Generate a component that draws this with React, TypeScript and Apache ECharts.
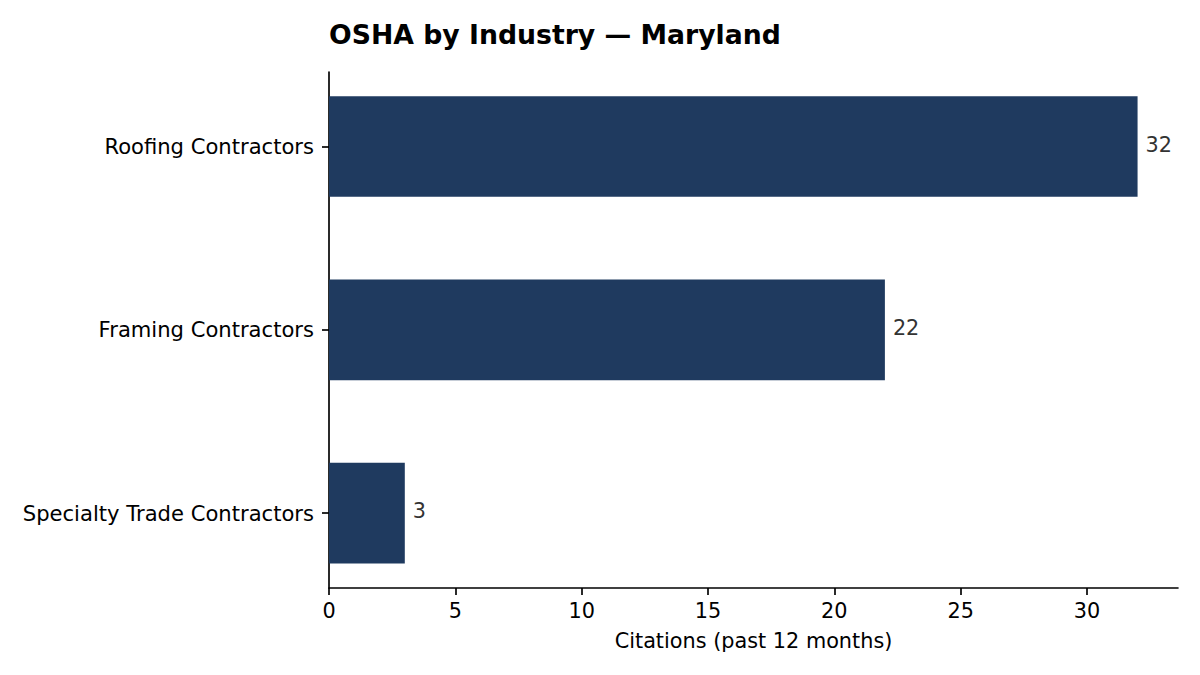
import React, { useEffect, useRef } from "react";
import * as echarts from "echarts";

const categories = ["Roofing Contractors", "Framing Contractors", "Specialty Trade Contractors"];
const citations = [32, 22, 3];
const xTickValues = [0, 5, 10, 15, 20, 25, 30];
const xMax = 33.6;
const titleText = "OSHA by Industry — Maryland";
const xAxisName = "Citations (past 12 months)";

const FONT = "DejaVu Sans";

export default function App() {
  const ref = useRef<HTMLDivElement>(null);
  useEffect(() => {
    document.body.style.margin = "0";
    if (!ref.current) return;
    const chart = echarts.init(ref.current, undefined, { renderer: "svg" });
    const left = 329;
    const right = 22;
    chart.setOption({
      animation: false,
      backgroundColor: "#ffffff",
      title: {
        text: titleText,
        left: left - 5,
        top: 16,
        textStyle: { fontFamily: FONT, fontSize: 26.7, fontWeight: "bold", color: "#000" },
      },
      grid: [
        { left, right, top: 72, height: 516 },
        { left, right, top: 54.85, height: 550 },
      ],
      xAxis: [
        {
          type: "value",
          gridIndex: 0,
          min: 0,
          max: xMax,
          interval: 5,
          name: xAxisName,
          nameLocation: "middle",
          nameGap: 42,
          nameTextStyle: { fontFamily: FONT, fontSize: 20.8, color: "#000" },
          axisLine: { show: true, lineStyle: { color: "#000", width: 1.67 } },
          axisTick: { show: true, length: 7, lineStyle: { color: "#000", width: 1.67 }, customValues: xTickValues },
          axisLabel: { fontFamily: FONT, fontSize: 20.8, color: "#000", margin: 12, customValues: xTickValues },
          splitLine: { show: false },
        },
        {
          type: "value",
          gridIndex: 1,
          min: 0,
          max: xMax,
          show: false,
        },
      ],
      yAxis: [
        {
          type: "value",
          gridIndex: 0,
          min: 0,
          max: 1,
          axisLine: { show: true, lineStyle: { color: "#000", width: 1.67 } },
          axisTick: { show: false },
          axisLabel: { show: false },
          splitLine: { show: false },
        },
        {
          type: "category",
          gridIndex: 1,
          inverse: true,
          data: categories,
          axisLine: { show: false },
          axisTick: { show: true, alignWithLabel: true, length: 7, lineStyle: { color: "#000", width: 1.67 } },
          axisLabel: { fontFamily: FONT, fontSize: 21.1, color: "#000", margin: 15, padding: [2, 0, 0, 0] },
          splitLine: { show: false },
        },
      ],
      series: [
        {
          type: "bar",
          xAxisIndex: 1,
          yAxisIndex: 1,
          data: citations,
          barWidth: 100.7,
          itemStyle: { color: "#1f3a5f" },
          label: {
            show: true,
            position: "right",
            distance: 8,
            offset: [0, -2],
            fontFamily: FONT,
            fontSize: 20.8,
            color: "#333333",
          },
        },
      ],
    });
    return () => chart.dispose();
  }, []);
  return <div ref={ref} style={{ width: 1200, height: 675 }} />;
}
